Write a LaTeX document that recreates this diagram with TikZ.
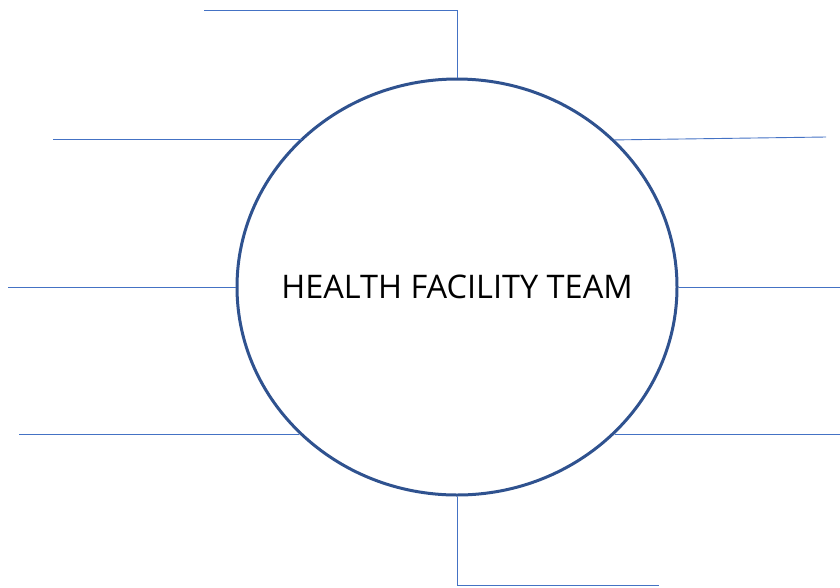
\documentclass[tikz,border=0pt]{standalone}
\usepackage{fontspec}
\setmainfont{Open Sans}
\usetikzlibrary{shapes.geometric}

\definecolor{ringblue}{RGB}{47,82,143}
\definecolor{spokeblue}{RGB}{68,114,196}

\tikzset{every picture/.style={line width=0.75pt}}
\tikzset{spoke/.style={draw=spokeblue, line width=0.9pt}}

\begin{document}
\begin{tikzpicture}[x=1pt,y=1pt,yscale=-1]
\useasboundingbox (0,0) rectangle (840,587);

%Shape: Ellipse [id:team]
\node (team) [ellipse, draw=ringblue, line width=3pt, minimum width=440pt, minimum height=416pt, inner sep=0pt] at (457,287) {};
% Text Node
\node (title) at (team.center) {\fontsize{32.5}{38}\selectfont HEALTH FACILITY TEAM};

%free ends of the spokes
\coordinate (topend) at (204,10);
\coordinate (topbend) at (457,10);
\coordinate (lefta) at (53,139);
\coordinate (leftb) at (8,287);
\coordinate (leftc) at (19,434);
\coordinate (righta) at (826,137);
\coordinate (rightb) at (840,287);
\coordinate (rightc) at (840,434);
\coordinate (botbend) at (457,585);
\coordinate (botend) at (659,585);

%Straight Lines [id:top]
\draw [spoke] (topend) -- (topbend) -- (team.north) ;
%Straight Lines [id:left]
\draw [spoke] (lefta) -- (lefta -| team.136) ;
\draw [spoke] (leftb) -- (team.west) ;
\draw [spoke] (leftc) -- (leftc -| team.223) ;
%Straight Lines [id:right]
\draw [spoke] (righta) -- (team.43) ;
\draw [spoke] (rightb) -- (team.east) ;
\draw [spoke] (rightc) -- (rightc -| team.317) ;
%Straight Lines [id:bottom]
\draw [spoke] (team.south) -- (botbend) -- (botend) ;
\end{tikzpicture}
\end{document}
